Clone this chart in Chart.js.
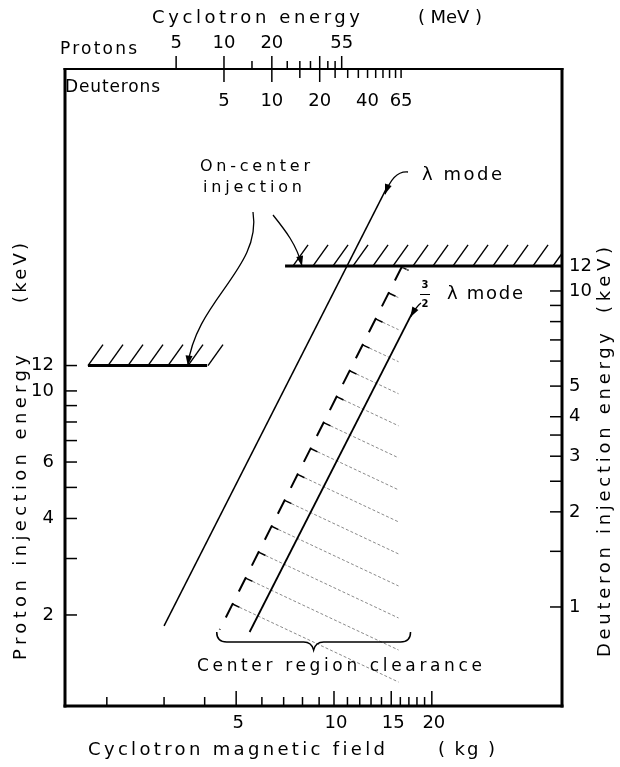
<!DOCTYPE html>
<html>
<head>
<meta charset="utf-8">
<script src="https://cdn.jsdelivr.net/npm/chart.js@4.4.1/dist/chart.umd.min.js"></script>
<style>
  html, body { margin: 0; padding: 0; background: #fff; }
  canvas { display: block; }
</style>
</head>
<body>
<canvas id="chart" width="620" height="767"></canvas>
<script>
// bottom axis: cyclotron magnetic field (kg)
const fieldTicks = [2, 3, 4, 5, 6, 7, 8, 9, 10, 11, 12, 13, 14, 15, 16, 17, 18, 19, 20];
const fieldLabels = [5, 10, 15, 20];

// top axis: cyclotron energy (MeV)
const protonEnergyTicks = [5, 10, 15, 20, 25, 30, 35, 40, 45, 50, 55];
const protonEnergyLabels = [5, 10, 20, 55];
const deuteronEnergyTicks = [5, 10, 15, 20, 25, 30, 35, 40, 45, 50, 55, 60, 65];
const deuteronEnergyLabels = [5, 10, 20, 40, 65];

// side axes: injection energy (keV)
const protonInjTicks = [2, 3, 4, 5, 6, 7, 8, 9, 10, 12];
const protonInjLabels = [2, 4, 6, 10, 12];
const deuteronInjTicks = [1, 1.5, 2, 2.5, 3, 3.5, 4, 5, 6, 7, 8, 9, 10, 12];
const deuteronInjLabels = [1, 2, 3, 4, 5, 10, 12];

// curves, field (kg) vs proton injection energy (keV)
const lambdaField = [3.0, 14.7];
const lambdaEnergy = [1.85, 44];
const threeHalfField = [5.5, 17.6];
const threeHalfEnergy = [1.77, 17.9];
const clearanceField = [16.2, 4.45];
const clearanceEnergy = [24.5, 1.8];
const clearanceHatchEnd = 15.8;

// on-center injection limits, 12 keV
const protonLimitField = [1.75, 4.07];
const protonLimitEnergy = [12, 12];
const deuteronLimitField = [7.07, 50.3];
const deuteronLimitEnergy = [12, 12];

const FONT = "'DejaVu Sans', 'Liberation Sans', sans-serif";

function pts(xs, ys) {
  return xs.map((x, i) => ({ x: x, y: ys[i] }));
}

function line(ctx, x0, y0, x1, y1) {
  ctx.beginPath();
  ctx.moveTo(x0, y0);
  ctx.lineTo(x1, y1);
  ctx.stroke();
}

// draw text stretched between x0 and x1
function fitText(ctx, text, x0, x1, y, size) {
  ctx.font = size + 'px ' + FONT;
  ctx.letterSpacing = '0px';
  const w = ctx.measureText(text).width;
  const n = [...text].length;
  const ls = n > 1 ? (x1 - x0 - w) / (n - 1) : 0;
  ctx.letterSpacing = ls + 'px';
  ctx.textAlign = 'left';
  ctx.textBaseline = 'middle';
  ctx.fillText(text, x0, y);
  ctx.letterSpacing = '0px';
}

function upText(ctx, text, x, yBottom, yTop, size) {
  ctx.save();
  ctx.translate(x, yBottom);
  ctx.rotate(-Math.PI / 2);
  fitText(ctx, text, 0, yBottom - yTop, 0, size);
  ctx.restore();
}

function label(ctx, text, x, y, align, size, weight) {
  ctx.font = (weight || '') + ' ' + size + 'px ' + FONT;
  ctx.textAlign = align;
  ctx.textBaseline = 'middle';
  ctx.fillText(text, x, y);
}

function arrow(ctx, sx, sy, c1x, c1y, c2x, c2y, tx, ty) {
  ctx.beginPath();
  ctx.moveTo(sx, sy);
  ctx.bezierCurveTo(c1x, c1y, c2x, c2y, tx, ty);
  ctx.stroke();
  const ang = Math.atan2(ty - c2y, tx - c2x);
  const L = 10, W = 3.5;
  ctx.beginPath();
  ctx.moveTo(tx, ty);
  ctx.lineTo(tx - L * Math.cos(ang) + W * Math.sin(ang), ty - L * Math.sin(ang) - W * Math.cos(ang));
  ctx.lineTo(tx - L * Math.cos(ang) - W * Math.sin(ang), ty - L * Math.sin(ang) + W * Math.cos(ang));
  ctx.closePath();
  ctx.fill();
}

const hatchPlugin = {
  id: 'hatch',
  beforeDatasetsDraw(chart) {
    const ctx = chart.ctx;
    const a = chart.chartArea;
    const s = chart.scales;
    ctx.save();
    ctx.beginPath();
    ctx.rect(a.left, 0, a.right - a.left, a.bottom);
    ctx.clip();

    // center region clearance hatching
    const p0x = s.x.getPixelForValue(clearanceField[0]);
    const p0y = s.yP.getPixelForValue(clearanceEnergy[0]);
    const p1x = s.x.getPixelForValue(clearanceField[1]);
    const p1y = s.yP.getPixelForValue(clearanceEnergy[1]);
    const len = Math.hypot(p1x - p0x, p1y - p0y);
    const ux = (p1x - p0x) / len, uy = (p1y - p0y) / len;
    const xEnd = s.x.getPixelForValue(clearanceHatchEnd);
    for (let d = 1; d < len - 4; d += 29) {
      const hx = p0x + ux * d, hy = p0y + uy * d;
      ctx.strokeStyle = '#000';
      ctx.lineWidth = 1.5;
      ctx.setLineDash([]);
      line(ctx, hx, hy, hx + 7, hy + 3.3);
      ctx.strokeStyle = '#8a8a8a';
      ctx.lineWidth = 1;
      ctx.setLineDash([3, 2]);
      line(ctx, hx + 7, hy + 3.3, xEnd, hy + 0.47 * (xEnd - hx));
    }
    ctx.setLineDash([]);

    // 12 keV limits hatching
    ctx.strokeStyle = '#000';
    ctx.lineWidth = 1.4;
    const limits = [
      [protonLimitField, protonLimitEnergy[0], 'yP', 0],
      [deuteronLimitField, deuteronLimitEnergy[0], 'yD', 8]
    ];
    for (const [fx, e, ax, off] of limits) {
      const x0 = s.x.getPixelForValue(fx[0]);
      const x1 = s.x.getPixelForValue(fx[1]);
      const y = s[ax].getPixelForValue(e);
      for (let x = x0 + off; x <= x1 + 1; x += 20) {
        line(ctx, x, y, x + 15, y - 21);
      }
    }
    ctx.restore();
  }
};

const framePlugin = {
  id: 'frame',
  afterDatasetsDraw(chart) {
    const ctx = chart.ctx;
    const a = chart.chartArea;
    const s = chart.scales;
    ctx.save();
    ctx.strokeStyle = '#000';
    ctx.fillStyle = '#000';
    ctx.lineCap = 'butt';

    // frame
    ctx.lineWidth = 3;
    line(ctx, a.left, a.top - 1, a.left, a.bottom + 1.5);
    line(ctx, a.right, a.top - 1, a.right, a.bottom + 1.5);
    line(ctx, a.left - 1.5, a.bottom, a.right + 1.5, a.bottom);
    ctx.lineWidth = 2;
    line(ctx, a.left - 1.5, a.top, a.right + 1.5, a.top);

    // ticks
    ctx.lineWidth = 1.5;
    for (const v of protonInjTicks) {
      const y = s.yP.getPixelForValue(v);
      line(ctx, a.left, y, a.left + 12, y);
    }
    for (const v of deuteronInjTicks) {
      const y = s.yD.getPixelForValue(v);
      line(ctx, a.right - 12, y, a.right, y);
    }
    for (const v of fieldTicks) {
      const x = s.x.getPixelForValue(v);
      const l = fieldLabels.includes(v) ? 15 : 9;
      line(ctx, x, a.bottom, x, a.bottom - l);
    }
    for (const v of protonEnergyTicks) {
      const x = s.xP.getPixelForValue(v);
      const l = [5, 10, 20, 40, 55].includes(v) ? 13 : 8;
      line(ctx, x, a.top, x, a.top - l);
    }
    for (const v of deuteronEnergyTicks) {
      const x = s.xD.getPixelForValue(v);
      const l = [5, 10, 20].includes(v) ? 13 : 9;
      line(ctx, x, a.top, x, a.top + l);
    }

    // tick labels
    for (const v of protonInjLabels) label(ctx, String(v), a.left - 11, s.yP.getPixelForValue(v), 'right', 18);
    for (const v of deuteronInjLabels) label(ctx, String(v), a.right + 7, s.yD.getPixelForValue(v), 'left', 18);
    for (const v of fieldLabels) label(ctx, String(v), s.x.getPixelForValue(v) + 2, a.bottom + 17, 'center', 18);
    for (const v of protonEnergyLabels) label(ctx, String(v), s.xP.getPixelForValue(v), a.top - 26, 'center', 18);
    for (const v of deuteronEnergyLabels) label(ctx, String(v), s.xD.getPixelForValue(v), a.top + 32, 'center', 18);

    // axis titles
    fitText(ctx, 'Cyclotron energy', 152, 360, 18, 18);
    fitText(ctx, '( MeV )', 418, 482, 18, 18);
    fitText(ctx, 'Protons', 60, 137, 50, 17);
    fitText(ctx, 'Deuterons', 65, 160, 88, 17);
    fitText(ctx, 'Cyclotron magnetic field', 88, 385, 750, 18);
    fitText(ctx, '( kg )', 438, 495, 750, 18);
    upText(ctx, 'Proton injection energy', 21, 660, 355, 18);
    upText(ctx, '(keV)', 21, 303, 243, 18);
    upText(ctx, 'Deuteron injection energy', 605, 657, 333, 18);
    upText(ctx, '(keV)', 605, 313, 247, 18);

    // annotations
    fitText(ctx, 'On-center', 200, 310, 167, 16);
    fitText(ctx, 'injection', 203, 302, 188, 16);
    fitText(ctx, 'λ mode', 422, 502, 175, 18);
    label(ctx, '3', 425, 285, 'center', 10, 'bold');
    label(ctx, '2', 425, 304, 'center', 10, 'bold');
    ctx.lineWidth = 1;
    line(ctx, 420, 294.5, 430, 294.5);
    fitText(ctx, 'λ mode', 447, 523, 294, 18);
    fitText(ctx, 'Center region clearance', 197, 482, 667, 17);

    // arrows
    ctx.lineWidth = 1.3;
    const lx = s.x.getPixelForValue(14.35), ly = s.yP.getPixelForValue(41.1);
    arrow(ctx, 408, 172, 398, 171, 390, 180, lx, ly);
    const tx = s.x.getPixelForValue(17.2), ty = s.yP.getPixelForValue(17.0);
    arrow(ctx, 421, 303, 418, 305, 415, 309, tx, ty);
    const ox = s.x.getPixelForValue(3.55), oy = s.yP.getPixelForValue(12);
    arrow(ctx, 253, 212, 262, 268, 196, 300, ox, oy);
    const rx = s.x.getPixelForValue(7.97), ry = s.yD.getPixelForValue(12);
    arrow(ctx, 273, 215, 285, 230, 297, 245, rx, ry);

    // brace
    const bx0 = s.x.getPixelForValue(clearanceField[1]) - 3;
    const bx1 = s.x.getPixelForValue(17.2);
    const bm = (bx0 + bx1) / 2;
    ctx.lineWidth = 1.5;
    ctx.beginPath();
    ctx.moveTo(bx0, 632);
    ctx.quadraticCurveTo(bx0, 642, bx0 + 10, 642);
    ctx.lineTo(bm - 10, 642);
    ctx.quadraticCurveTo(bm - 2, 642, bm, 650);
    ctx.quadraticCurveTo(bm + 2, 642, bm + 10, 642);
    ctx.lineTo(bx1 - 10, 642);
    ctx.quadraticCurveTo(bx1, 642, bx1, 632);
    ctx.stroke();

    ctx.restore();
  }
};

const lineStyle = { showLine: true, pointRadius: 0, borderColor: '#000', fill: false, tension: 0, xAxisID: 'x' };

new Chart(document.getElementById('chart'), {
  type: 'scatter',
  data: {
    datasets: [
      { ...lineStyle, label: 'λ mode', data: pts(lambdaField, lambdaEnergy), yAxisID: 'yP', borderWidth: 1.5 },
      { ...lineStyle, label: '3/2 λ mode', data: pts(threeHalfField, threeHalfEnergy), yAxisID: 'yP', borderWidth: 1.8 },
      { ...lineStyle, label: 'Center region clearance', data: pts(clearanceField, clearanceEnergy), yAxisID: 'yP', borderWidth: 2, borderDash: [16, 13] },
      { ...lineStyle, label: 'Proton on-center limit', data: pts(protonLimitField, protonLimitEnergy), yAxisID: 'yP', borderWidth: 3 },
      { ...lineStyle, label: 'Deuteron on-center limit', data: pts(deuteronLimitField, deuteronLimitEnergy), yAxisID: 'yD', borderWidth: 3 }
    ]
  },
  options: {
    responsive: false,
    animation: false,
    events: [],
    layout: { padding: { left: 65, top: 69, right: 58, bottom: 61 } },
    plugins: { legend: { display: false }, tooltip: { enabled: false } },
    scales: {
      x: { type: 'logarithmic', min: 1.487, max: 50.3, display: false },
      yP: { type: 'logarithmic', position: 'left', min: 1.04, max: 101, display: false },
      yD: { type: 'logarithmic', position: 'right', min: 0.486, max: 50.4, display: false },
      xP: { type: 'logarithmic', position: 'top', min: 1.0, max: 1337, display: false },
      xD: { type: 'logarithmic', position: 'top', min: 0.5, max: 668.5, display: false }
    }
  },
  plugins: [hatchPlugin, framePlugin]
});
</script>
</body>
</html>
